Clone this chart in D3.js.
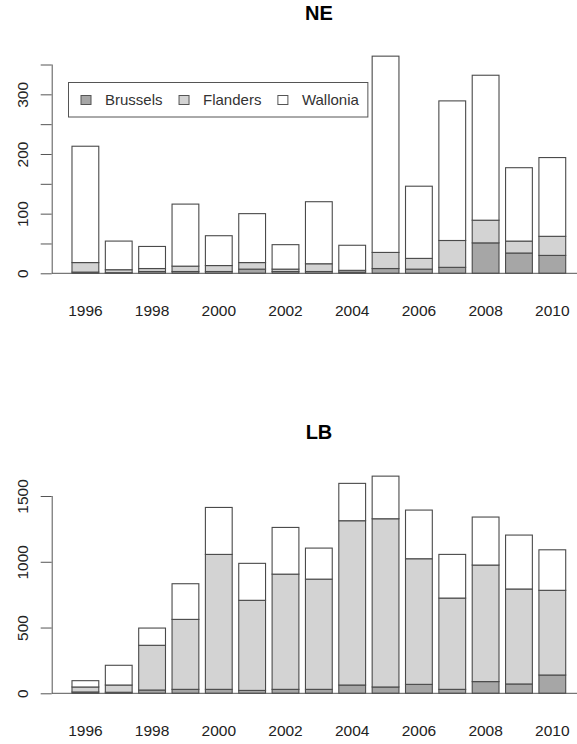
<!DOCTYPE html>
<html>
<head>
<meta charset="utf-8">
<script src="https://cdn.jsdelivr.net/npm/d3@7"></script>
<style>
  html, body { margin: 0; padding: 0; background: #fff; }
  svg { display: block; }
  text { font-family: "Liberation Sans", Arial, Helvetica, sans-serif; }
</style>
</head>
<body>
<svg id="chart" width="577" height="744"></svg>
<script>
// ---------------- data ----------------
const years = ["1996","1997","1998","1999","2000","2001","2002","2003","2004","2005","2006","2007","2008","2009","2010"];
const xTickLabels = ["1996","1998","2000","2002","2004","2006","2008","2010"];
const series = ["Brussels", "Flanders", "Wallonia"];

const neBrussels = [2, 1, 3, 3, 3, 7, 3, 3, 2, 8, 7, 10, 51, 34, 30];
const neFlanders = [16, 5, 5, 9, 10, 11, 4, 13, 3, 27, 18, 45, 38, 20, 32];
const neWallonia = [195, 48, 37, 104, 50, 82, 41, 104, 42, 329, 121, 234, 243, 123, 132];
const neYTicks = [0, 50, 100, 150, 200, 250, 300, 350];
const neYLabels = [0, 100, 200, 300];

const lbBrussels = [10, 8, 25, 30, 30, 22, 30, 30, 63, 48, 68, 30, 89, 71, 139];
const lbFlanders = [38, 55, 340, 532, 1026, 685, 876, 838, 1249, 1279, 955, 694, 886, 722, 644];
const lbWallonia = [48, 150, 131, 271, 357, 281, 355, 236, 284, 324, 370, 332, 365, 410, 308];
const lbYTicks = [0, 500, 1000, 1500];
const lbYLabels = [0, 500, 1000, 1500];

// ---------------- styles ----------------
const fills = ["#a6a6a6", "#d3d3d3", "#ffffff"];
const barStroke = "#4a4a4a";
const axisColor = "#555";
const textColor = "#222";

const svg = d3.select("#chart");

// plot region in user units (R barplot: xlim extended by 4%)
const x = d3.scaleLinear().domain([-0.512, 18.712]).range([51.7, 586]);
const band = d3.scaleBand().domain(years)
  .range([x(0.1), x(18.1)])
  .paddingInner(1 / 6)
  .paddingOuter(1 / 12);

function panel(opts) {
  const g = svg.append("g");
  const y = d3.scaleLinear().domain(opts.yDomain).range(opts.yRange);
  const data = years.map((yr, i) => ({ year: yr, Brussels: opts.b[i], Flanders: opts.f[i], Wallonia: opts.w[i] }));
  const stacked = d3.stack().keys(series)(data);

  // title
  g.append("text")
    .attr("x", opts.titleX).attr("y", opts.titleY)
    .attr("text-anchor", "middle")
    .attr("font-size", 20).attr("font-weight", "bold")
    .attr("fill", "#000")
    .text(opts.title);

  // bars
  stacked.forEach((layer, k) => {
    g.append("g").selectAll("rect").data(layer).enter().append("rect")
      .attr("x", d => band(d.data.year) + 0.5)
      .attr("width", band.bandwidth() - 1)
      .attr("y", d => y(d[1]))
      .attr("height", d => Math.max(0, y(d[0]) - y(d[1])))
      .attr("fill", fills[k])
      .attr("stroke", barStroke)
      .attr("stroke-width", 1.1);
  });

  // horizontal line at zero
  g.append("line")
    .attr("x1", x.range()[0]).attr("x2", 577)
    .attr("y1", y(0)).attr("y2", y(0))
    .attr("stroke", axisColor).attr("stroke-width", 1);

  // y axis
  const yAxis = d3.axisLeft(y)
    .tickValues(opts.yTicks)
    .tickSize(11)
    .tickFormat(d => opts.yLabels.includes(d) ? String(d) : "");
  const ga = g.append("g")
    .attr("transform", `translate(${x.range()[0]},0)`)
    .call(yAxis);
  ga.select(".domain").attr("stroke", axisColor).attr("d",
    `M0.5,${y(opts.yTicks[0])}V${y(opts.yTicks[opts.yTicks.length - 1])}`);
  ga.selectAll(".tick line").attr("stroke", axisColor);
  ga.selectAll(".tick text")
    .attr("font-size", 15.5)
    .attr("fill", textColor)
    .attr("font-family", "Liberation Sans, Arial, sans-serif")
    .attr("text-anchor", "middle")
    .attr("dy", 0)
    .attr("x", 0)
    .attr("transform", "translate(-23.4,0) rotate(-90)");

  // x labels
  const gx = g.append("g");
  const xAxis = d3.axisBottom(band).tickValues(xTickLabels).tickSize(0).tickPadding(0);
  gx.attr("transform", `translate(0,${opts.xLabelY})`).call(xAxis);
  gx.select(".domain").remove();
  gx.selectAll(".tick text")
    .attr("font-size", 15.5)
    .attr("fill", textColor)
    .attr("font-family", "Liberation Sans, Arial, sans-serif")
    .attr("dy", 0).attr("y", 0);

  return g;
}

panel({
  title: "NE", titleX: 319, titleY: 20,
  yDomain: [0, 350], yRange: [273.3, 64.5],
  yTicks: neYTicks, yLabels: neYLabels,
  b: neBrussels, f: neFlanders, w: neWallonia,
  xLabelY: 316
});

panel({
  title: "LB", titleX: 319, titleY: 439.3,
  yDomain: [0, 1500], yRange: [693.3, 496],
  yTicks: lbYTicks, yLabels: lbYLabels,
  b: lbBrussels, f: lbFlanders, w: lbWallonia,
  xLabelY: 736
});

// legend (NE panel)
const lg = svg.append("g");
const box = lg.append("rect")
  .attr("x", 68.5).attr("y", 82.5).attr("height", 34.5)
  .attr("fill", "#fff").attr("stroke", "#555").attr("stroke-width", 1);
let cx = 81;
series.forEach((s, k) => {
  lg.append("rect")
    .attr("x", cx).attr("y", 95.5).attr("width", 10).attr("height", 9)
    .attr("fill", fills[k]).attr("stroke", "#555").attr("stroke-width", 1);
  const t = lg.append("text")
    .attr("x", cx + 24).attr("y", 105.3)
    .attr("font-size", 15).attr("fill", "#333")
    .text(s);
  const w = t.node().getComputedTextLength();
  cx = cx + 24 + w + 16.5;
  if (k === series.length - 1) box.attr("width", (cx - 16.5 + 9) - 68.5);
});
</script>
</body>
</html>
